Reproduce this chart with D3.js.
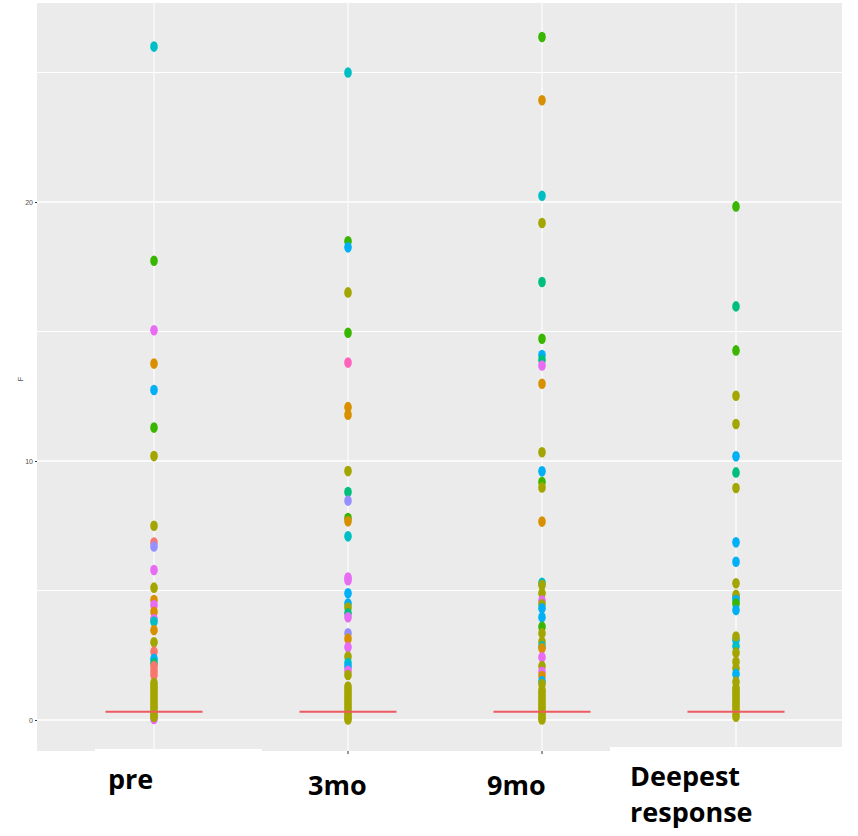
<!DOCTYPE html>
<html>
<head>
<meta charset="utf-8">
<script src="https://cdn.jsdelivr.net/npm/d3@7"></script>
<style>
  body { margin: 0; background: #fff; }
  svg { display: block; }
  .tick-label { font-family: "Liberation Sans", Arial, sans-serif; font-size: 7px; fill: #4d4d4d; }
  .cat-label { font-family: "Open Sans", sans-serif; font-weight: 700; font-size: 27px; fill: #000; }
</style>
</head>
<body>
<svg width="858" height="836"></svg>
<script>
// categories on the x axis
var categories = ["pre", "3mo", "9mo", "Deepest response"];
// patient colour groups (ggplot hue palette)
var groups = ["P1", "P2", "P3", "P4", "P5", "P6", "P7", "P8", "P9", "P10"];
var groupColors = ["#F8766D", "#D89000", "#A3A500", "#39B600", "#00BF7D",
                   "#00BFC4", "#00B0F6", "#9590FF", "#E76BF3", "#FF62BC"];
var yTicks = [0, 10, 20];
var medians = [0.32, 0.32, 0.32, 0.32];

// [value, group index]
var prePoints = [[26.0,5],[17.73,3],[15.05,8],[13.76,1],[12.74,6],[11.29,3],[10.19,2],[7.50,2],
  [6.85,0],[6.7,7],[5.79,8],[5.11,2],[4.63,1],[4.44,8],[4.18,1],[3.9,8],[3.8,5],[3.47,1],[3.0,2],
  [2.64,0],[2.36,6],[2.2,4],[2.08,0],[1.9,0],[1.74,0],[0.04,8],
  [1.43,2],[1.3,2],[1.18,2],[1.05,2],[0.93,2],[0.8,2],[0.68,2],[0.55,2],[0.43,2],[0.3,2],[0.2,2],[0.12,2]];
var m3Points = [[25.0,5],[18.48,3],[18.25,6],[16.51,2],[14.95,3],[13.8,9],[12.08,1],[11.79,1],[9.61,2],
  [8.80,4],[8.47,7],[7.80,3],[7.67,1],[7.09,5],[5.5,8],[5.4,8],[4.89,6],[4.5,6],[4.34,2],[4.12,4],
  [3.97,8],[3.35,7],[3.14,1],[2.81,8],[2.45,2],[2.2,5],[2.06,6],[1.9,8],[1.74,2],
  [1.29,2],[1.17,2],[1.05,2],[0.93,2],[0.8,2],[0.68,2],[0.55,2],[0.43,2],[0.3,2],[0.2,2],[0.1,2],[0.02,2]];
var m9Points = [[26.37,3],[23.93,1],[20.24,5],[19.19,2],[16.91,4],[14.72,3],[14.09,6],[13.9,4],[13.69,8],
  [12.98,1],[10.34,2],[9.60,6],[9.19,3],[8.98,2],[7.66,1],[5.30,5],[5.21,2],[4.89,2],[4.61,8],[4.47,2],
  [4.31,6],[3.97,6],[3.6,3],[3.35,2],[3.02,2],[2.85,5],[2.77,1],[2.42,8],[2.08,2],[1.86,8],[1.70,1],
  [1.5,6],[1.39,2],[1.16,2],[1.04,2],[0.92,2],[0.8,2],[0.68,2],[0.56,2],[0.44,2],[0.32,2],[0.2,2],[0.1,2],[0.02,2]];
var deepPoints = [[19.83,3],[15.97,4],[14.27,3],[12.52,2],[11.43,2],[10.18,6],[9.56,4],[8.96,2],
  [6.86,6],[6.11,6],[5.28,2],[4.75,6],[4.83,2],[4.63,6],[4.5,3],[4.25,6],[3.09,6],[3.22,2],[2.85,5],
  [2.6,2],[2.25,2],[2.0,2],[1.78,6],[1.48,2],
  [1.24,2],[1.12,2],[1.0,2],[0.88,2],[0.76,2],[0.64,2],[0.52,2],[0.4,2],[0.28,2],[0.13,2]];
var seriesPoints = [prePoints, m3Points, m9Points, deepPoints];

var svg = d3.select("svg");
var panel = {left: 37, right: 842, top: 3, bottom: 751};

var x = d3.scalePoint().domain(categories).range([154, 736]);
var y = d3.scaleLinear().domain([0, 20]).range([720, 202]);
var color = d3.scaleOrdinal().domain(groups).range(groupColors);

// panel background
svg.append("rect")
    .attr("x", panel.left)
    .attr("y", panel.top)
    .attr("width", panel.right - panel.left)
    .attr("height", panel.bottom - panel.top)
    .attr("fill", "#EBEBEB");

// minor grid
[5, 15, 25].forEach(function(v) {
    svg.append("line")
        .attr("x1", panel.left).attr("x2", panel.right)
        .attr("y1", y(v)).attr("y2", y(v))
        .attr("stroke", "#fff").attr("stroke-width", 1);
});
// major grid
yTicks.forEach(function(v) {
    svg.append("line")
        .attr("x1", panel.left).attr("x2", panel.right)
        .attr("y1", y(v)).attr("y2", y(v))
        .attr("stroke", "#fff").attr("stroke-width", 1.6);
});
categories.forEach(function(c) {
    svg.append("line")
        .attr("x1", x(c)).attr("x2", x(c))
        .attr("y1", panel.top).attr("y2", panel.bottom)
        .attr("stroke", "#fafafa").attr("stroke-width", 1.5);
});

// y axis
var yAxis = svg.append("g")
    .attr("transform", "translate(" + panel.left + ",0)")
    .call(d3.axisLeft(y).tickValues(yTicks).tickSize(2).tickPadding(2));
yAxis.select(".domain").remove();
yAxis.selectAll(".tick line").attr("stroke", "#333");
yAxis.selectAll(".tick text").attr("class", "tick-label").attr("font-size", null).attr("font-family", null);

svg.append("text")
    .attr("class", "tick-label")
    .attr("transform", "translate(23,379) rotate(-90)")
    .attr("text-anchor", "middle")
    .text("F");

// points
seriesPoints.forEach(function(pts, i) {
    var cx = x(categories[i]);
    svg.append("g").selectAll("ellipse")
        .data(pts)
        .enter().append("ellipse")
        .attr("cx", cx)
        .attr("cy", function(d) { return y(d[0]); })
        .attr("rx", 3.8)
        .attr("ry", 5.3)
        .attr("fill", function(d) { return color(groups[d[1]]); });
});

// median lines
medians.forEach(function(m, i) {
    var cx = x(categories[i]);
    svg.append("line")
        .attr("x1", cx - 48.5).attr("x2", cx + 48.5)
        .attr("y1", y(m)).attr("y2", y(m))
        .attr("stroke", "#EE5A60").attr("stroke-width", 2);
});

// bottom axis ticks
categories.forEach(function(c) {
    svg.append("line")
        .attr("x1", x(c)).attr("x2", x(c))
        .attr("y1", panel.bottom).attr("y2", panel.bottom + 3)
        .attr("stroke", "#333");
});

// white label boxes pasted over the original axis labels
svg.append("rect").attr("x", 95).attr("y", 749).attr("width", 167).attr("height", 87).attr("fill", "#fff");
svg.append("rect").attr("x", 610).attr("y", 747).attr("width", 248).attr("height", 89).attr("fill", "#fff");

// category labels
var labelPos = [{t: "pre", x: 108, y: 789}, {t: "3mo", x: 308, y: 795},
                {t: "9mo", x: 487, y: 795}, {t: "Deepest", x: 630, y: 786},
                {t: "response", x: 630, y: 822}];
labelPos.forEach(function(l) {
    svg.append("text")
        .attr("class", "cat-label")
        .attr("x", l.x).attr("y", l.y)
        .text(l.t);
});
</script>
</body>
</html>
